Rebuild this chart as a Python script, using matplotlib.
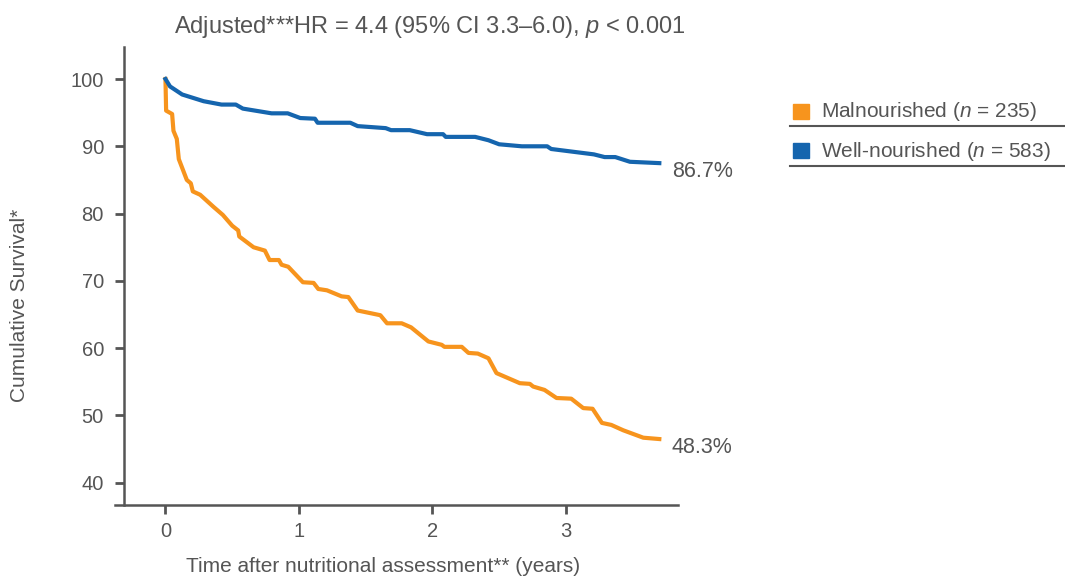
import matplotlib
matplotlib.use("Agg")
import matplotlib.pyplot as plt
from matplotlib.patches import Rectangle
from matplotlib.lines import Line2D

# Kaplan-Meier curves (years, % survival)
mal_years = [0, 0.005, 0.05, 0.06, 0.085, 0.1, 0.16, 0.19, 0.205, 0.26, 0.36, 0.43, 0.50,
             0.545, 0.553, 0.66, 0.745, 0.78, 0.85, 0.87, 0.92, 1.03, 1.11, 1.145, 1.21,
             1.32, 1.37, 1.44, 1.61, 1.66, 1.77, 1.84, 1.97, 2.07, 2.09, 2.22, 2.27, 2.34,
             2.42, 2.48, 2.655, 2.73, 2.755, 2.84, 2.93, 3.04, 3.13, 3.20, 3.27, 3.34,
             3.43, 3.58, 3.70]
mal_surv = [100, 95.3, 94.8, 92.3, 91.1, 88.1, 85.0, 84.5, 83.3, 82.8, 81.0, 79.8, 78.2,
            77.5, 76.6, 75.0, 74.5, 73.1, 73.1, 72.4, 72.1, 69.8, 69.7, 68.8, 68.6,
            67.7, 67.6, 65.6, 64.9, 63.7, 63.7, 63.1, 61.0, 60.5, 60.2, 60.2, 59.3, 59.2,
            58.5, 56.3, 54.8, 54.7, 54.3, 53.8, 52.6, 52.5, 51.1, 51.0, 48.9, 48.6,
            47.8, 46.7, 46.5]

well_years = [0, 0.034, 0.125, 0.286, 0.42, 0.527, 0.58, 0.795, 0.916, 1.01, 1.12, 1.14,
              1.385, 1.44, 1.65, 1.69, 1.83, 1.96, 2.08, 2.10, 2.32, 2.42, 2.50, 2.67,
              2.86, 2.89, 3.21, 3.29, 3.37, 3.48, 3.70]
well_surv = [100, 98.9, 97.7, 96.7, 96.2, 96.2, 95.6, 94.9, 94.9, 94.2, 94.1, 93.5,
             93.5, 93.0, 92.7, 92.4, 92.4, 91.8, 91.8, 91.4, 91.4, 90.9, 90.3, 90.0,
             90.0, 89.6, 88.8, 88.4, 88.4, 87.7, 87.5]

end_labels = ["48.3%", "86.7%"]
legend_labels = [r"Malnourished ($\mathit{n}$ = 235)", r"Well-nourished ($\mathit{n}$ = 583)"]
title = r"Adjusted***HR = 4.4 (95% CI 3.3–6.0), $\mathit{p}$ < 0.001"

orange = "#F7941D"
blue = "#1565AE"
grey = "#555555"

plt.rcParams["font.family"] = ["Liberation Sans", "DejaVu Sans"]
plt.rcParams["mathtext.fontset"] = "custom"
plt.rcParams["mathtext.rm"] = "Liberation Sans"
plt.rcParams["mathtext.it"] = "Liberation Sans:italic"

W, H = 1065, 579
fig = plt.figure(figsize=(W / 100, H / 100), dpi=100)


def fx(px):
    return px / W


def fy(py):
    return 1 - py / H


ax = fig.add_axes([fx(115), fy(505), fx(678) - fx(115), fy(46.7) - fy(505)])
ax.plot(mal_years, mal_surv, color=orange, lw=3, solid_joinstyle="round")
ax.plot(well_years, well_surv, color=blue, lw=3, solid_joinstyle="round")

ax.set_xlim(-0.378, 3.84)
ax.set_ylim(36.7, 104.8)
ax.set_xticks([0, 1, 2, 3])
ax.set_yticks([40, 50, 60, 70, 80, 90, 100])

for s in ["top", "right"]:
    ax.spines[s].set_visible(False)
ax.spines["left"].set_position(("data", -0.31))
for s in ["left", "bottom"]:
    ax.spines[s].set_color(grey)
    ax.spines[s].set_linewidth(1.8)
ax.tick_params(axis="both", colors=grey, labelsize=14.5, length=6.5, width=2)
ax.tick_params(axis="y", pad=8)
ax.tick_params(axis="x", pad=6)

# end-of-curve percentages
ax.text(3.794, 45.2, end_labels[0], color=grey, fontsize=15.5, va="center", ha="left")
ax.text(3.794, 86.2, end_labels[1], color=grey, fontsize=15.5, va="center", ha="left")

fig.text(fx(430), fy(27), title, color=grey, fontsize=17, ha="center", va="center")
fig.text(fx(383), fy(566), "Time after nutritional assessment** (years)",
         color=grey, fontsize=15, ha="center", va="center")
fig.text(fx(20), fy(305), "Cumulative Survival*", color=grey, fontsize=15,
         rotation=90, ha="center", va="center")

# legend with rules underneath
for i, (lab, col) in enumerate(zip(legend_labels, [orange, blue])):
    yc = 111 + i * 40
    fig.add_artist(Rectangle((fx(793), fy(yc + 7.5)), fx(16), 15 / H,
                             transform=fig.transFigure, color=col))
    fig.text(fx(821), fy(yc + 0.5), lab, color=grey, fontsize=15, ha="left", va="center")
    fig.add_artist(Line2D([fx(790), fx(1065)], [fy(yc + 14.5)] * 2,
                          transform=fig.transFigure, color=grey, lw=1.5))

fig.savefig("out.png", dpi=100)
